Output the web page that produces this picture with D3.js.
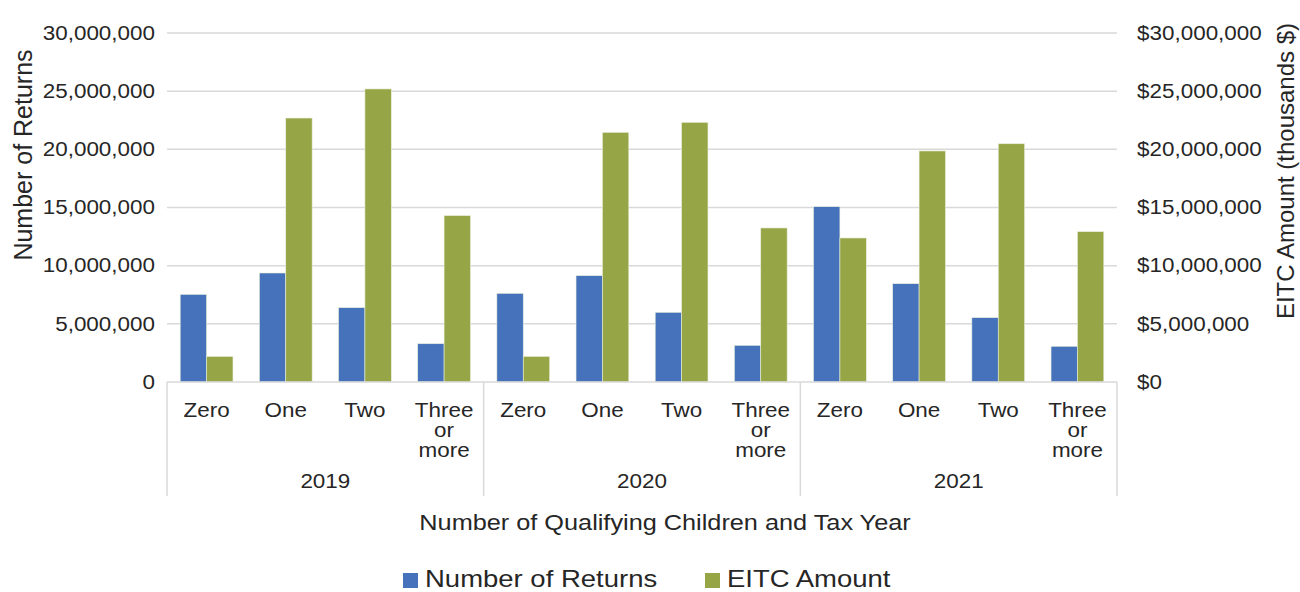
<!DOCTYPE html>
<html><head><meta charset="utf-8">
<script src="https://cdn.jsdelivr.net/npm/d3@7/dist/d3.min.js"></script>
<style>body{margin:0;background:#fff}svg text{font-family:"Liberation Sans",Arial,sans-serif;fill:#262626}</style>
</head><body><svg id="c" width="1300" height="592"></svg>
<script>
const years = ["2019","2020","2021"];
const children = ["Zero","One","Two","Three or more"];
const returnsValues = [7530000,9370000,6390000,3290000, 7620000,9140000,5990000,3150000, 15070000,8450000,5530000,3070000];
const eitcValues = [2200000,22690000,25190000,14300000, 2200000,21460000,22320000,13240000, 12380000,19860000,20480000,12920000];
const leftTicks = [0,5000000,10000000,15000000,20000000,25000000,30000000];
const seriesNames = ["Number of Returns","EITC Amount"];
const colors = ["#4572BA","#96A646"];

const SX = 1.15; // horizontal stretch of glyphs in the reference
const svg = d3.select("#c");
const L=167,R=1117,T=33,B=382;
const cats = [];
years.forEach(y=>children.forEach(c=>cats.push(y+"|"+c)));
const data = cats.map((k,i)=>({key:k, year:k.split("|")[0], child:k.split("|")[1], v:[returnsValues[i],eitcValues[i]]}));

const x = d3.scaleBand().domain(cats).range([L,R]).paddingInner(0).paddingOuter(0);
const yL = d3.scaleLinear().domain([0,30000000]).range([B,T]);
const yR = d3.scaleLinear().domain([0,30000000]).range([B,T]);
const bw = x.bandwidth()/3;

function stext(px,py,size,anchor,str){
  return svg.append("text").attr("transform",`translate(${px},${py}) scale(${SX},1)`)
    .attr("text-anchor",anchor).attr("font-size",size).text(str);
}

// gridlines
svg.append("g").selectAll("line").data(leftTicks.filter(d=>d>0)).join("line")
  .attr("x1",L).attr("x2",R).attr("y1",d=>yL(d)).attr("y2",d=>yL(d))
  .attr("stroke","#d9d9d9").attr("stroke-width",1.5);

// bars
const g = svg.append("g");
data.forEach(d=>{
  [0,1].forEach(s=>{
    const sc = s===0?yL:yR;
    g.append("rect").attr("x",x(d.key)+x.bandwidth()/6+s*bw).attr("y",sc(d.v[s]))
      .attr("width",bw).attr("height",B-sc(d.v[s])).attr("fill",colors[s])
      .attr("stroke","#e8eedd").attr("stroke-width",0.6);
  });
});

// baseline
svg.append("line").attr("x1",L).attr("x2",R).attr("y1",B).attr("y2",B).attr("stroke","#d9d9d9").attr("stroke-width",1.5);
// year separators
const seps = [L].concat(years.map(y=>x(y+"|"+children[children.length-1])+x.bandwidth()));
svg.append("g").selectAll("line").data(seps).join("line")
  .attr("x1",d=>d).attr("x2",d=>d).attr("y1",B).attr("y2",496).attr("stroke","#d9d9d9").attr("stroke-width",1.5);

// left axis
const fmt = d3.format(",");
const la = svg.append("g").attr("transform",`translate(${L},0)`).call(d3.axisLeft(yL).tickValues(leftTicks).tickFormat(fmt).tickSize(0).tickPadding(10.5));
la.select(".domain").remove();
la.selectAll("text").attr("font-size",19.5).attr("fill","#262626").attr("transform",`scale(${SX},1)`).style("font-family","Liberation Sans, Arial, sans-serif");
// right axis
const ra = svg.append("g").attr("transform",`translate(${R},0)`).call(d3.axisRight(yR).tickValues(leftTicks).tickFormat(d=>"$"+fmt(d)).tickSize(0).tickPadding(17.5));
ra.select(".domain").remove();
ra.selectAll("text").attr("font-size",19.5).attr("fill","#262626").attr("transform",`scale(${SX},1)`).style("font-family","Liberation Sans, Arial, sans-serif");

// category labels
data.forEach(d=>{
  const cx = x(d.key)+x.bandwidth()/2;
  const lines = d.child==="Three or more"?["Three","or","more"]:[d.child];
  lines.forEach((ln,i)=>stext(cx,417+i*20,19.5,"middle",ln));
});
years.forEach(y=>{
  const x0 = x(y+"|"+children[0]), x1 = x(y+"|"+children[3])+x.bandwidth();
  stext((x0+x1)/2,488,19.5,"middle",y);
});

// axis titles
stext(665,530,22,"middle","Number of Qualifying Children and Tax Year");
svg.append("text").attr("transform",`translate(32,155) rotate(-90)`).attr("text-anchor","middle").attr("font-size",25).text("Number of Returns");
svg.append("text").attr("transform",`translate(1294,171) rotate(-90)`).attr("text-anchor","middle").attr("font-size",24).text("EITC Amount (thousands $)");

// legend
const lg = [{x:403,tx:425},{x:705,tx:727}];
seriesNames.forEach((n,i)=>{
  svg.append("rect").attr("x",lg[i].x).attr("y",573).attr("width",15).attr("height",15).attr("fill",colors[i]);
  svg.append("text").attr("transform",`translate(${lg[i].tx},587) scale(1.17,1)`).attr("font-size",23.5).text(n);
});
</script></body></html>
